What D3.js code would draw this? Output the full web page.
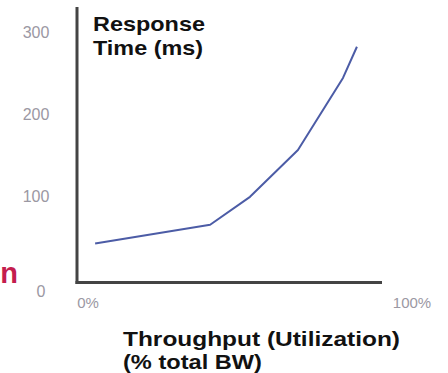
<!DOCTYPE html>
<html><head><meta charset="utf-8">
<script src="https://cdn.jsdelivr.net/npm/d3@7/dist/d3.min.js"></script>
<style>html,body{margin:0;padding:0;background:#fff;}svg{display:block;}</style>
</head><body>
<svg id="chart" width="448" height="373"></svg>
<script>
// Data
const utilization = [2.2, 37.7, 50, 64.8, 78.7, 83];      // % total BW
const responseTime = [42, 65, 99, 156, 244, 282];          // ms
const yTicks = [0, 100, 200, 300];
const xTicks = [0, 100];
const xTickLabels = ["0%", "100%"];
const titleLines = ["Response", "Time (ms)"];
const xTitleLines = ["Throughput  (Utilization)", "(% total BW)"];

const svg = d3.select("#chart");
const font = "'Liberation Sans', Arial, sans-serif";

const x = d3.scaleLinear().domain([0, 100]).range([88, 412]);
const y = d3.scaleLinear().domain([0, 300]).range([278, 32]);

// red clipped letter at left edge
svg.append("text").attr("x", 18).attr("y", 283).attr("text-anchor", "end")
  .attr("font-family", font).attr("font-weight", "bold").attr("font-size", 29)
  .attr("fill", "#c41d4e").text("n");

// y tick labels
svg.selectAll("text.yt").data(yTicks).join("text").attr("class", "yt")
  .attr("x", d => d === 0 ? 41 : 36)
  .attr("y", d => d === 0 ? y(d) + 19 : y(d) + 6)
  .attr("text-anchor", "middle")
  .attr("font-family", font).attr("font-size", 16)
  .attr("fill", "#9b98a3")
  .text(d => d);

// x tick labels
svg.selectAll("text.xt").data(xTicks).join("text").attr("class", "xt")
  .attr("x", d => x(d)).attr("y", 308)
  .attr("text-anchor", "middle")
  .attr("font-family", font).attr("font-size", 15)
  .attr("fill", "#9b98a3")
  .text((d, i) => xTickLabels[i]);

// axes lines
svg.append("line").attr("x1", 77).attr("x2", 77).attr("y1", 7).attr("y2", 284)
  .attr("stroke", "#444").attr("stroke-width", 3);
svg.append("line").attr("x1", 75.5).attr("x2", 382).attr("y1", 282.5).attr("y2", 282.5)
  .attr("stroke", "#444").attr("stroke-width", 3);

// line
const pts = utilization.map((u, i) => [u, responseTime[i]]);
svg.append("path").datum(pts)
  .attr("fill", "none").attr("stroke", "#4c5ca6").attr("stroke-width", 2)
  .attr("stroke-linejoin", "round")
  .attr("d", d3.line().x(d => x(d[0])).y(d => y(d[1])));

// title
const tw = [112, 110];
svg.selectAll("text.title").data(titleLines).join("text").attr("class", "title")
  .attr("x", 93).attr("y", (d, i) => 31 + i * 24)
  .attr("font-family", font).attr("font-weight", "bold").attr("font-size", 21)
  .attr("fill", "#111")
  .attr("textLength", (d, i) => tw[i]).attr("lengthAdjust", "spacingAndGlyphs")
  .text(d => d);

// x title
const xw = [277, 139];
svg.selectAll("text.xtitle").data(xTitleLines).join("text").attr("class", "xtitle")
  .attr("x", 123).attr("y", (d, i) => 346 + i * 23)
  .attr("font-family", font).attr("font-weight", "bold").attr("font-size", 21)
  .attr("fill", "#111")
  .attr("textLength", (d, i) => xw[i]).attr("lengthAdjust", "spacingAndGlyphs")
  .text(d => d);
</script>
</body></html>
